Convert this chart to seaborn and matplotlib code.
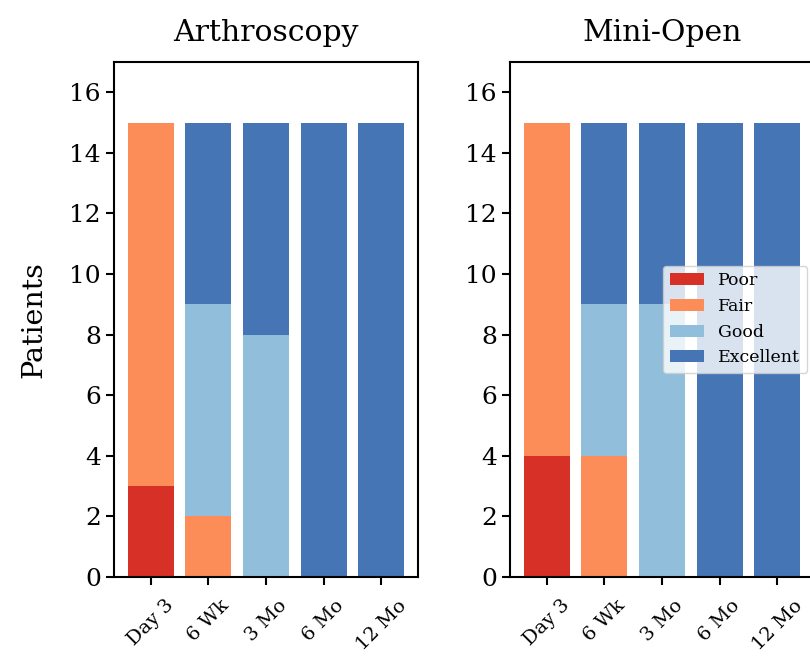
import seaborn as sns
import pandas as pd
import matplotlib.pyplot as plt

# Data
timepoints = ["Day 3", "6 Wk", "3 Mo", "6 Mo", "12 Mo"]
ratings = ["Poor", "Fair", "Good", "Excellent"]
colors = ["#d73027", "#fc8d59", "#91bfdb", "#4575b4"]

arthro_poor = [3, 0, 0, 0, 0]
arthro_fair = [12, 2, 0, 0, 0]
arthro_good = [0, 7, 8, 0, 0]
arthro_excellent = [0, 6, 7, 15, 15]

mini_poor = [4, 0, 0, 0, 0]
mini_fair = [11, 4, 0, 0, 0]
mini_good = [0, 5, 9, 0, 0]
mini_excellent = [0, 6, 6, 15, 15]

groups = {
    "Arthroscopy": [arthro_poor, arthro_fair, arthro_good, arthro_excellent],
    "Mini-Open": [mini_poor, mini_fair, mini_good, mini_excellent],
}

sns.set_style("ticks")
plt.rcParams["font.family"] = ["DejaVu Serif"]
plt.rcParams["text.color"] = "black"
plt.rcParams["axes.labelcolor"] = "black"
plt.rcParams["xtick.color"] = "black"
plt.rcParams["ytick.color"] = "black"

fig = plt.figure(figsize=(8.1, 6.57), dpi=100)
ax1 = fig.add_axes([0.1407, 0.1218, 0.3753, 0.7839])
ax2 = fig.add_axes([0.6296, 0.1218, 0.3753, 0.7839])

for ax, (name, counts) in zip([ax1, ax2], groups.items()):
    df = pd.DataFrame(dict(zip(ratings, counts)), index=timepoints)
    cum = df.cumsum(axis=1)
    # draw tallest (cumulative) first so lower segments sit on top
    for rating, color in reversed(list(zip(ratings, colors))):
        sns.barplot(x=cum.index, y=cum[rating].values, color=color,
                    width=0.8, ax=ax, label=rating, saturation=1,
                    linewidth=0)
    ax.set_xlim(-0.64, 4.64)
    ax.set_ylim(0, 17)
    ax.set_yticks(range(0, 17, 2))
    ax.set_title(name, fontsize=21.5, pad=15)
    ax.set_xlabel("")
    ax.set_ylabel("")
    ax.tick_params(axis="y", labelsize=18, length=6, width=1.5)
    ax.tick_params(axis="x", labelsize=14, length=6, width=1.5,
                   rotation=45, pad=8)
    for lbl in ax.get_xticklabels():
        lbl.set_ha("center")
    for s in ax.spines.values():
        s.set_linewidth(1.5)
        s.set_color("black")
    ax.legend_ = None

ax1.set_ylabel("Patients", fontsize=20.5, labelpad=16)

handles, labels = ax2.get_legend_handles_labels()
order = [labels.index(r) for r in ratings]
ax2.legend([handles[i] for i in order], ratings, loc="center right",
           fontsize=12.5, framealpha=0.8, borderaxespad=0.4)

fig.savefig("out.png", dpi=100)
